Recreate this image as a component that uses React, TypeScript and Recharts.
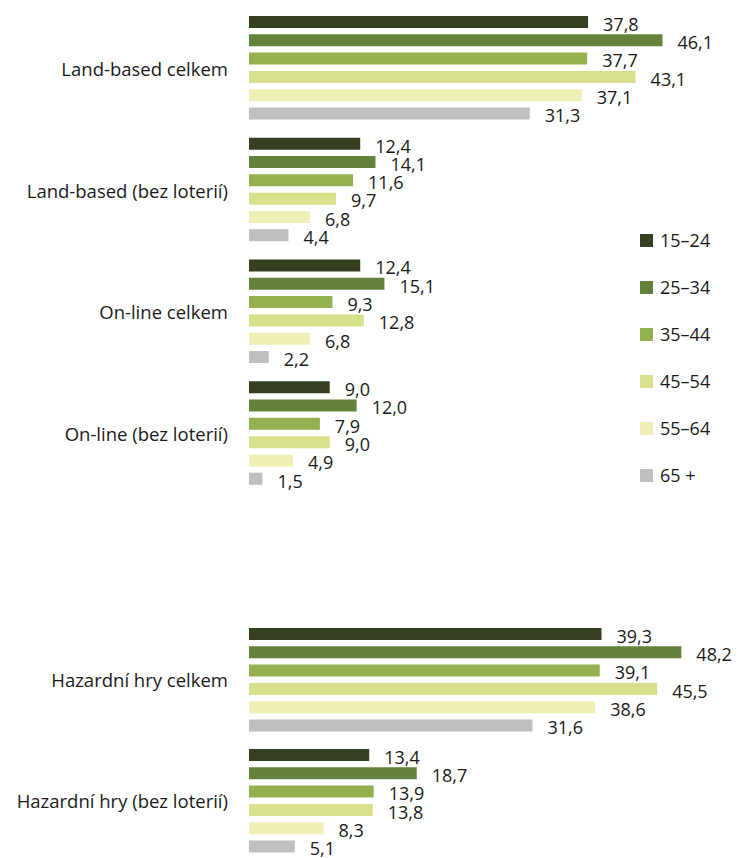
import React from "react";
import { BarChart, Bar, XAxis, YAxis, LabelList } from "recharts";

const AGE_GROUPS = ["15–24", "25–34", "35–44", "45–54", "55–64", "65 +"];
const COLORS = ["#344020", "#64823b", "#95b14f", "#d8e08c", "#f0f0b6", "#bfbfbf"];

const TOP_CATEGORIES = [
  "Land-based celkem",
  "Land-based (bez loterií)",
  "On-line celkem",
  "On-line (bez loterií)",
];
const TOP_VALUES = [
  [37.8, 12.4, 12.4, 9.0], // 15–24
  [46.1, 14.1, 15.1, 12.0], // 25–34
  [37.7, 11.6, 9.3, 7.9], // 35–44
  [43.1, 9.7, 12.8, 9.0], // 45–54
  [37.1, 6.8, 6.8, 4.9], // 55–64
  [31.3, 4.4, 2.2, 1.5], // 65 +
];

const BOTTOM_CATEGORIES = ["Hazardní hry celkem", "Hazardní hry (bez loterií)"];
const BOTTOM_VALUES = [
  [39.3, 13.4],
  [48.2, 18.7],
  [39.1, 13.9],
  [45.5, 13.8],
  [38.6, 8.3],
  [31.6, 5.1],
];

const FONT = "'Open Sans', sans-serif";
const INK = "#1a1a1a";

function buildRows(categories: string[], values: number[][]) {
  return categories.map((name, ci) => {
    const row: Record<string, string | number> = { name };
    AGE_GROUPS.forEach((g, gi) => {
      row[g] = values[gi][ci];
    });
    return row;
  });
}

const fmt = (v: number) => v.toFixed(1).replace(".", ",");

function ValueLabel(props: any) {
  const { x, y, width, height, value } = props;
  return (
    <text
      x={x + width + 15}
      y={y + height / 2 + 4}
      fill={INK}
      fontSize={18}
      fontFamily={FONT}
      dominantBaseline="middle"
    >
      {fmt(Number(value))}
    </text>
  );
}

// category label, nudged a bit below the group centre like the original
function CategoryTick(props: any) {
  const { x, y, payload } = props;
  return (
    <text
      x={x}
      y={y + 3}
      textAnchor="end"
      dominantBaseline="middle"
      fill={INK}
      fontSize={18.5}
      fontFamily={FONT}
    >
      {payload.value}
    </text>
  );
}

function Panel({ data, height, top }: { data: any[]; height: number; top: number }) {
  return (
    <div style={{ position: "absolute", left: 0, top }}>
      <BarChart
        width={738}
        height={height}
        data={data}
        layout="vertical"
        margin={{ top: 0, right: 40.5, bottom: 0, left: 0 }}
        barSize={12}
        barGap={6.3}
      >
        <XAxis type="number" domain={[0, 50]} hide />
        <YAxis
          type="category"
          dataKey="name"
          width={249}
          axisLine={false}
          tickLine={false}
          tickMargin={15}
          tick={<CategoryTick />}
          interval={0}
        />
        {AGE_GROUPS.map((g, i) => (
          <Bar key={g} dataKey={g} fill={COLORS[i]} isAnimationActive={false}>
            <LabelList dataKey={g} content={ValueLabel} />
          </Bar>
        ))}
      </BarChart>
    </div>
  );
}

export default function App() {
  const topData = buildRows(TOP_CATEGORIES, TOP_VALUES);
  const bottomData = buildRows(BOTTOM_CATEGORIES, BOTTOM_VALUES);

  return (
    <div
      style={{
        position: "absolute",
        left: 0,
        top: 0,
        width: 738,
        height: 858,
        overflow: "hidden",
        background: "#fff",
      }}
    >
      <Panel data={topData} height={487} top={6.7} />
      <Panel data={bottomData} height={242} top={618.5} />
      <div style={{ position: "absolute", left: 640, top: 228 }}>
        {AGE_GROUPS.map((g, i) => (
          <div
            key={g}
            style={{
              position: "relative",
              height: 47,
              fontFamily: FONT,
              fontSize: 18,
              color: INK,
            }}
          >
            <span
              style={{
                position: "absolute",
                left: 0,
                top: 6,
                width: 13,
                height: 13,
                background: COLORS[i],
              }}
            />
            <span style={{ position: "absolute", left: 20, top: 0, whiteSpace: "nowrap" }}>{g}</span>
          </div>
        ))}
      </div>
    </div>
  );
}
